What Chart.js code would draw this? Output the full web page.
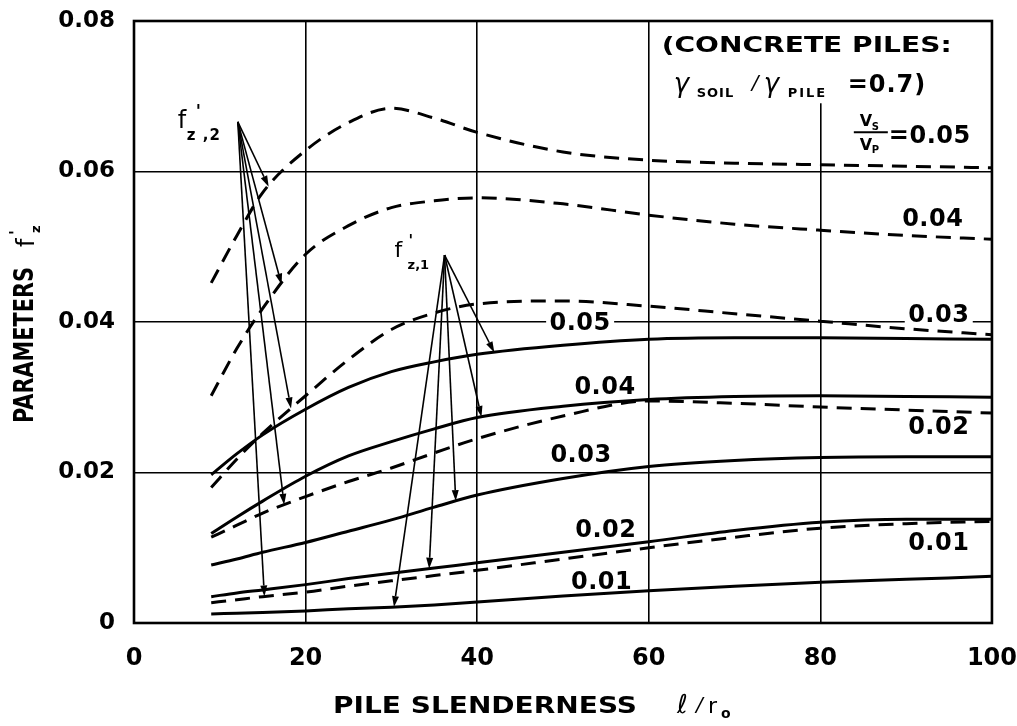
<!DOCTYPE html>
<html>
<head>
<meta charset="utf-8">
<title>Parameters f'z vs pile slenderness</title>
<script src="https://cdn.jsdelivr.net/npm/chart.js@4.4.1/dist/chart.umd.min.js"></script>
<style>
  html, body { margin: 0; padding: 0; background: #fff; }
</style>
</head>
<body>
<canvas id="chart" width="1017" height="726"></canvas>
<script>
// ── Values ───────────────────────────────────────────
const slenderness = [9, 12, 15, 20, 25, 30, 35, 40, 50, 60, 70, 80, 90, 100];

// f'z,2 (dashed), one curve per Vs/Vp
const fz2_005 = [0.0452, 0.0515, 0.0572, 0.0628, 0.0665, 0.0684, 0.0671, 0.0652, 0.0626, 0.0615, 0.0611, 0.0609, 0.0607, 0.0605];
const fz2_004 = [0.0302, 0.0365, 0.0418, 0.0490, 0.0528, 0.0552, 0.0561, 0.0565, 0.0557, 0.0542, 0.0530, 0.0522, 0.0515, 0.0510];
const fz2_003 = [0.0180, 0.0218, 0.0252, 0.0302, 0.0350, 0.0390, 0.0412, 0.0424, 0.0428, 0.0421, 0.0411, 0.0401, 0.0391, 0.0383];
const fz2_002 = [0.0114, 0.0130, 0.0146, 0.0168, 0.0188, 0.0206, 0.0226, 0.0245, 0.0275, 0.0295, 0.0292, 0.0287, 0.0283, 0.0279];
const fz2_001 = [0.0027, 0.0031, 0.0035, 0.0041, 0.0049, 0.0056, 0.0063, 0.0070, 0.0085, 0.0100, 0.0114, 0.0126, 0.0132, 0.0135];

// f'z,1 (solid)
const fz1_005 = [0.0197, 0.0225, 0.0250, 0.0284, 0.0313, 0.0334, 0.0347, 0.0357, 0.0369, 0.0377, 0.0379, 0.0379, 0.0378, 0.0377];
const fz1_004 = [0.0119, 0.0141, 0.0162, 0.0195, 0.0222, 0.0241, 0.0258, 0.0273, 0.0288, 0.0297, 0.0301, 0.0302, 0.0301, 0.0300];
const fz1_003 = [0.0077, 0.0085, 0.0094, 0.0107, 0.0122, 0.0137, 0.0154, 0.0170, 0.0192, 0.0208, 0.0216, 0.0220, 0.0221, 0.0221];
const fz1_002 = [0.0035, 0.0040, 0.0044, 0.0051, 0.0059, 0.0066, 0.0073, 0.0080, 0.0094, 0.0108, 0.0123, 0.0134, 0.0138, 0.0138];
const fz1_001 = [0.0012, 0.0013, 0.0014, 0.0016, 0.0019, 0.0021, 0.0024, 0.0028, 0.0036, 0.0043, 0.0049, 0.0054, 0.0058, 0.0062];

const ratios = ['0.05', '0.04', '0.03', '0.02', '0.01'];
const xTicks = [0, 20, 40, 60, 80, 100];
const yTicks = [0, 0.02, 0.04, 0.06, 0.08];

const dashedSeries = [fz2_005, fz2_004, fz2_003, fz2_002, fz2_001];
const solidSeries  = [fz1_005, fz1_004, fz1_003, fz1_002, fz1_001];

// ── Annotations (placed in data units) ───────────────
// leader arrows: [curve, slenderness where the tip lands]
const fz2Origin = { x: 12.1, y: 0.0666 };
const fz2Arrows = [[fz2_005, 15.7], [fz2_004, 17.2], [fz2_003, 18.3], [fz2_002, 17.5], [fz2_001, 15.2]];
const fz1Origin = { x: 36.2, y: 0.0489 };
const fz1Arrows = [[fz1_005, 42.0], [fz1_004, 40.5], [fz1_003, 37.5], [fz1_002, 34.4], [fz1_001, 30.3]];

// Vs/Vp labels next to curves
const curveLabels = [
  { text: ratios[0], x: 52.0, y: 0.0397 },
  { text: ratios[1], x: 54.9, y: 0.0312 },
  { text: ratios[2], x: 52.1, y: 0.0222 },
  { text: ratios[3], x: 55.0, y: 0.0122 },
  { text: ratios[4], x: 54.5, y: 0.0053 },
  { text: ratios[1], x: 93.1, y: 0.0536 },
  { text: ratios[2], x: 93.8, y: 0.0408 },
  { text: ratios[3], x: 93.8, y: 0.0259 },
  { text: ratios[4], x: 93.8, y: 0.0105 }
];

const FONT = '"DejaVu Sans", sans-serif';

// ── Helpers ──────────────────────────────────────────
function valueAt(vals, xv) {
  for (let i = 1; i < slenderness.length; i++) {
    if (xv <= slenderness[i]) {
      const t = (xv - slenderness[i - 1]) / (slenderness[i] - slenderness[i - 1]);
      return vals[i - 1] + t * (vals[i] - vals[i - 1]);
    }
  }
  return vals[vals.length - 1];
}

function txt(ctx, s, x, y, size, o = {}) {
  ctx.save();
  ctx.font = `${o.style || 'normal'} ${o.weight || 'bold'} ${size}px ${FONT}`;
  if ('letterSpacing' in ctx) ctx.letterSpacing = (o.spacing || 0) + 'px';
  ctx.textAlign = o.align || 'left';
  ctx.textBaseline = o.baseline || 'alphabetic';
  ctx.fillStyle = '#000';
  let w = ctx.measureText(s).width;
  if (o.fit) {
    ctx.translate(x, y);
    ctx.scale(o.fit / w, 1);
    ctx.fillText(s, 0, 0);
    w = o.fit;
  } else {
    ctx.fillText(s, x, y);
  }
  ctx.restore();
  return w;
}

function arrow(ctx, x0, y0, x1, y1) {
  const ang = Math.atan2(y1 - y0, x1 - x0);
  const len = 11, hw = 3.5;
  ctx.beginPath();
  ctx.moveTo(x0, y0);
  ctx.lineTo(x1 - len * Math.cos(ang), y1 - len * Math.sin(ang));
  ctx.stroke();
  ctx.beginPath();
  ctx.moveTo(x1, y1);
  ctx.lineTo(x1 - len * Math.cos(ang) + hw * Math.sin(ang), y1 - len * Math.sin(ang) - hw * Math.cos(ang));
  ctx.lineTo(x1 - len * Math.cos(ang) - hw * Math.sin(ang), y1 - len * Math.sin(ang) + hw * Math.cos(ang));
  ctx.closePath();
  ctx.fill();
}

function curve(label, vals, dashed) {
  return {
    label,
    data: slenderness.map((x, i) => ({ x, y: vals[i] })),
    borderColor: '#000',
    borderWidth: 3,
    borderDash: dashed ? [15, 9] : [],
    pointRadius: 0,
    fill: false,
    cubicInterpolationMode: 'monotone'
  };
}

// ── Figure text, leaders, frame ──────────────────────
const figureText = {
  id: 'figureText',
  beforeDatasetsDraw(chart) {
    const { ctx, chartArea: a, scales: { x, y } } = chart;
    ctx.save();
    ctx.fillStyle = '#fff';
    // note box in the upper right breaks the grid
    const bx = x.getPixelForValue(61);
    ctx.fillRect(bx, a.top + 1, a.right - bx - 1, y.getPixelForValue(0.0692) - a.top);
    curveLabels.forEach(l => {
      const cx = x.getPixelForValue(l.x), cy = y.getPixelForValue(l.y);
      ctx.fillRect(cx - 34, cy - 11, 68, 22);
    });
    // Vs/Vp = 0.05 block
    ctx.fillRect(x.getPixelForValue(83.5), y.getPixelForValue(0.0668), 125, 30);
    ctx.restore();

    ctx.save();
    ctx.strokeStyle = '#000';
    ctx.lineWidth = 2.6;
    ctx.strokeRect(a.left, a.top, a.right - a.left, a.bottom - a.top);
    ctx.restore();
  },
  afterDatasetsDraw(chart) {
    const { ctx, chartArea: a, scales: { x, y } } = chart;
    ctx.save();
    ctx.strokeStyle = '#000';
    ctx.fillStyle = '#000';
    ctx.lineWidth = 1.6;
    const leaders = (origin, list) => {
      const ox = x.getPixelForValue(origin.x), oy = y.getPixelForValue(origin.y);
      list.forEach(([vals, xv]) => arrow(ctx, ox, oy, x.getPixelForValue(xv), y.getPixelForValue(valueAt(vals, xv))));
      return [ox, oy];
    };
    const [o2x, o2y] = leaders(fz2Origin, fz2Arrows);
    const [o1x, o1y] = leaders(fz1Origin, fz1Arrows);
    ctx.restore();

    // f'z,2 and f'z,1 tags
    txt(ctx, 'f', o2x - 60, o2y + 6, 24, { weight: 'normal' });
    txt(ctx, "'", o2x - 42, o2y - 5, 17);
    txt(ctx, 'z ,2', o2x - 51, o2y + 18, 15, { spacing: 1 });
    txt(ctx, 'f', o1x - 50, o1y + 2, 22, { weight: 'normal' });
    txt(ctx, "'", o1x - 36, o1y - 9, 15);
    txt(ctx, 'z,1', o1x - 37, o1y + 14, 13);

    // curve labels
    curveLabels.forEach(l => {
      txt(ctx, l.text, x.getPixelForValue(l.x), y.getPixelForValue(l.y), 24, { align: 'center', baseline: 'middle', spacing: 0.5 });
    });

    // Vs/Vp = 0.05
    const fx = x.getPixelForValue(83.9), fy = y.getPixelForValue(0.0652);
    ctx.save();
    ctx.strokeStyle = '#000';
    ctx.lineWidth = 2;
    ctx.beginPath(); ctx.moveTo(fx, fy); ctx.lineTo(fx + 34, fy); ctx.stroke();
    ctx.restore();
    txt(ctx, 'V', fx + 6, fy - 6, 16);
    txt(ctx, 'S', fx + 18, fy - 2, 10);
    txt(ctx, 'V', fx + 6, fy + 18, 16);
    txt(ctx, 'P', fx + 18, fy + 21, 10);
    txt(ctx, '=0.05', fx + 35, fy + 11, 24, { spacing: 0.5 });

    // note box
    const nx = x.getPixelForValue(61.5);
    txt(ctx, '(CONCRETE PILES:', nx, a.top + 31, 22, { fit: 290 });
    const ly = a.top + 71;
    txt(ctx, '\u03b3', nx + 12, ly, 26, { style: 'italic', weight: 'normal' });
    txt(ctx, 'SOIL', nx + 35, ly + 5, 13, { spacing: 1 });
    txt(ctx, '/', nx + 90, ly - 3, 20, { style: 'italic', weight: 'normal' });
    txt(ctx, '\u03b3', nx + 102, ly, 26, { style: 'italic', weight: 'normal' });
    txt(ctx, 'PILE', nx + 126, ly + 5, 13, { spacing: 2 });
    txt(ctx, '=0.7)', nx + 186, ly, 24, { spacing: 1 });

    // x axis title
    const tx = a.left + 199, ty = a.bottom + 90;
    const w = txt(ctx, 'PILE SLENDERNESS', tx, ty, 23, { fit: 304 });
    txt(ctx, '\u2113', tx + w + 40, ty, 26, { style: 'italic', weight: 'normal' });
    txt(ctx, '/', tx + w + 59, ty - 2, 20, { style: 'italic', weight: 'normal' });
    txt(ctx, 'r', tx + w + 71, ty, 22, { weight: 'normal' });
    txt(ctx, 'o', tx + w + 84, ty + 5, 14, { weight: 'bold' });

    // y axis title (rotated)
    ctx.save();
    ctx.translate(26, a.top + 402);
    ctx.rotate(-Math.PI / 2);
    const wy = txt(ctx, 'PARAMETERS', 0, 0, 26, { baseline: 'middle', fit: 156 });
    txt(ctx, 'f', wy + 20, 8, 24, { weight: 'normal' });
    txt(ctx, "'", wy + 32, -5, 16);
    txt(ctx, 'z', wy + 34, 14, 13);
    ctx.restore();
  }
};

// ── Chart ────────────────────────────────────────────
const tickFont = { family: FONT, size: 23, weight: 'bold' };

new Chart(document.getElementById('chart'), {
  type: 'line',
  data: {
    datasets: [
      ...dashedSeries.map((vals, i) => curve("f'z,2 Vs/Vp=" + ratios[i], vals, true)),
      ...solidSeries.map((vals, i) => curve("f'z,1 Vs/Vp=" + ratios[i], vals, false))
    ]
  },
  options: {
    responsive: false,
    animation: false,
    layout: { padding: { top: 21, right: 23, left: 0, bottom: 0 } },
    plugins: { legend: { display: false }, tooltip: { enabled: false } },
    scales: {
      x: {
        type: 'linear',
        min: 0, max: 100,
        afterBuildTicks: s => { s.ticks = xTicks.map(v => ({ value: v })); },
        ticks: { color: '#000', font: { ...tickFont, size: 24 }, padding: 0, maxRotation: 0 },
        grid: { color: '#000', lineWidth: 1.6, tickLength: 21, tickColor: 'rgba(0,0,0,0)' },
        border: { display: false },
        afterFit: s => { s.height = 103; }
      },
      y: {
        min: 0, max: 0.08,
        afterBuildTicks: s => { s.ticks = yTicks.map(v => ({ value: v })); },
        ticks: { color: '#000', font: tickFont, padding: 0, callback: v => v === 0 ? '0' : v.toFixed(2) },
        grid: { color: '#000', lineWidth: 1.6, tickLength: 19, tickColor: 'rgba(0,0,0,0)' },
        border: { display: false },
        afterFit: s => { s.width = 134; }
      }
    }
  },
  plugins: [figureText]
});
</script>
</body>
</html>
